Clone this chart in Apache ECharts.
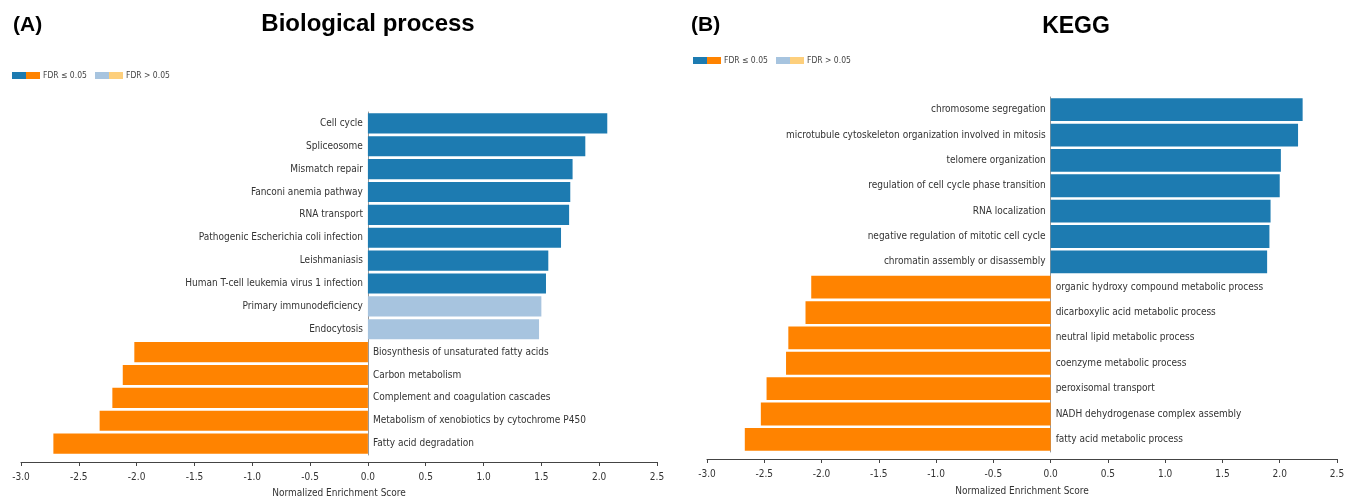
<!DOCTYPE html>
<html>
<head>
<meta charset="utf-8">
<script src="https://cdn.jsdelivr.net/npm/echarts@6/dist/echarts.min.js"></script>
<style>
  html, body { margin: 0; padding: 0; background: #fff; }
  #chart { width: 1354px; height: 500px; }
</style>
</head>
<body>
<div id="chart"></div>
<script>
// Panel A — Biological process (top to bottom)
const bpCategories = [
  'Cell cycle', 'Spliceosome', 'Mismatch repair', 'Fanconi anemia pathway', 'RNA transport',
  'Pathogenic Escherichia coli infection', 'Leishmaniasis', 'Human T-cell leukemia virus 1 infection',
  'Primary immunodeficiency', 'Endocytosis',
  'Biosynthesis of unsaturated fatty acids', 'Carbon metabolism', 'Complement and coagulation cascades',
  'Metabolism of xenobiotics by cytochrome P450', 'Fatty acid degradation'
]
const bpValues = [2.07, 1.88, 1.77, 1.75, 1.74, 1.67, 1.56, 1.54, 1.50, 1.48, -2.02, -2.12, -2.21, -2.32, -2.72]
const bpSignificant = [true, true, true, true, true, true, true, true, false, false, true, true, true, true, true]

// Panel B — KEGG (top to bottom)
const keggCategories = [
  'chromosome segregation', 'microtubule cytoskeleton organization involved in mitosis',
  'telomere organization', 'regulation of cell cycle phase transition', 'RNA localization',
  'negative regulation of mitotic cell cycle', 'chromatin assembly or disassembly',
  'organic hydroxy compound metabolic process', 'dicarboxylic acid metabolic process',
  'neutral lipid metabolic process', 'coenzyme metabolic process', 'peroxisomal transport',
  'NADH dehydrogenase complex assembly', 'fatty acid metabolic process'
]
const keggValues = [2.20, 2.16, 2.01, 2.00, 1.92, 1.91, 1.89, -2.09, -2.14, -2.29, -2.31, -2.48, -2.53, -2.67]
const keggSignificant = keggValues.map(() => true)

const BLUE = '#1d7bb1', ORANGE = '#ff8300', LIGHT_BLUE = '#a7c4df', LIGHT_ORANGE = '#fdcf7c'
const FONT = "'Liberation Sans Narrow', 'DejaVu Sans Condensed', 'Arial Narrow', sans-serif"
const TITLE_FONT = "'Liberation Sans', Arial, sans-serif"

function barData(cats, vals, sig) {
  return vals.map((v, i) => ({
    value: v,
    itemStyle: { color: v >= 0 ? (sig[i] ? BLUE : LIGHT_BLUE) : (sig[i] ? ORANGE : LIGHT_ORANGE) },
    label: {
      show: true,
      formatter: cats[i],
      position: v >= 0 ? 'left' : 'right',
      distance: 5,
    },
  }))
}

function xAxisOpt(gridIndex, offset, nameGap) {
  return {
    gridIndex, type: 'value', min: -3, max: 2.5, interval: 0.5, offset,
    name: 'Normalized Enrichment Score', nameLocation: 'middle', nameGap,
    nameTextStyle: { fontFamily: FONT, fontSize: 10, color: '#333' },
    axisLine: { show: true, onZero: false, lineStyle: { color: '#444', width: 1 } },
    axisTick: { show: true, length: 4, lineStyle: { color: '#444' } },
    axisLabel: { fontFamily: FONT, fontSize: 10, color: '#333', margin: 10,
      formatter: v => v.toFixed(1) },
    splitLine: { show: false },
  }
}

function yAxisOpt(gridIndex, cats) {
  return {
    gridIndex, type: 'category', data: cats, inverse: true,
    axisLine: { onZero: true, lineStyle: { color: '#999', width: 1 } },
    axisTick: { show: false },
    axisLabel: { show: false },
    splitLine: { show: false },
  }
}

function legend(x, y) {
  const sw = 14, h = 7
  const txt = { font: '8.5px ' + FONT, fill: '#444', verticalAlign: 'middle' }
  return [
    { type: 'rect', shape: { x: x, y: y, width: sw, height: h }, style: { fill: BLUE } },
    { type: 'rect', shape: { x: x + sw, y: y, width: sw, height: h }, style: { fill: ORANGE } },
    { type: 'text', x: x + 2 * sw + 3, y: y + h / 2, style: Object.assign({ text: 'FDR ≤ 0.05' }, txt) },
    { type: 'rect', shape: { x: x + 83, y: y, width: sw, height: h }, style: { fill: LIGHT_BLUE } },
    { type: 'rect', shape: { x: x + 83 + sw, y: y, width: sw, height: h }, style: { fill: LIGHT_ORANGE } },
    { type: 'text', x: x + 83 + 2 * sw + 3, y: y + h / 2, style: Object.assign({ text: 'FDR > 0.05' }, txt) },
  ]
}

const chart = echarts.init(document.getElementById('chart'), null, { renderer: 'canvas' })
chart.setOption({
  animation: false,
  backgroundColor: '#fff',
  title: [
    { text: '(A)', left: 8, top: 10, textStyle: { fontFamily: TITLE_FONT, fontSize: 21, fontWeight: 'bold', color: '#000' } },
    { text: 'Biological process', left: 363, top: 7, textAlign: 'center', textStyle: { fontFamily: TITLE_FONT, fontSize: 24, fontWeight: 'bold', color: '#000' } },
    { text: '(B)', left: 686, top: 10, textStyle: { fontFamily: TITLE_FONT, fontSize: 21, fontWeight: 'bold', color: '#000' } },
    { text: 'KEGG', left: 1071, top: 10, textAlign: 'center', textStyle: { fontFamily: TITLE_FONT, fontSize: 23, fontWeight: 'bold', color: '#000' } },
  ],
  graphic: [...legend(12, 72), ...legend(693, 57)],
  grid: [
    { left: 21, top: 112, width: 636, height: 343, outerBoundsMode: 'none', containLabel: false },
    { left: 707, top: 97, width: 630, height: 355, outerBoundsMode: 'none', containLabel: false },
  ],
  xAxis: [xAxisOpt(0, 7, 26), xAxisOpt(1, 7, 27)],
  yAxis: [yAxisOpt(0, bpCategories), yAxisOpt(1, keggCategories)],
  series: [
    {
      type: 'bar', xAxisIndex: 0, yAxisIndex: 0, barCategoryGap: '12%',
      data: barData(bpCategories, bpValues, bpSignificant),
      label: { fontFamily: FONT, fontSize: 10, color: '#333' },
    },
    {
      type: 'bar', xAxisIndex: 1, yAxisIndex: 1, barCategoryGap: '10%',
      data: barData(keggCategories, keggValues, keggSignificant),
      label: { fontFamily: FONT, fontSize: 10, color: '#333' },
    },
  ],
})
</script>
</body>
</html>
